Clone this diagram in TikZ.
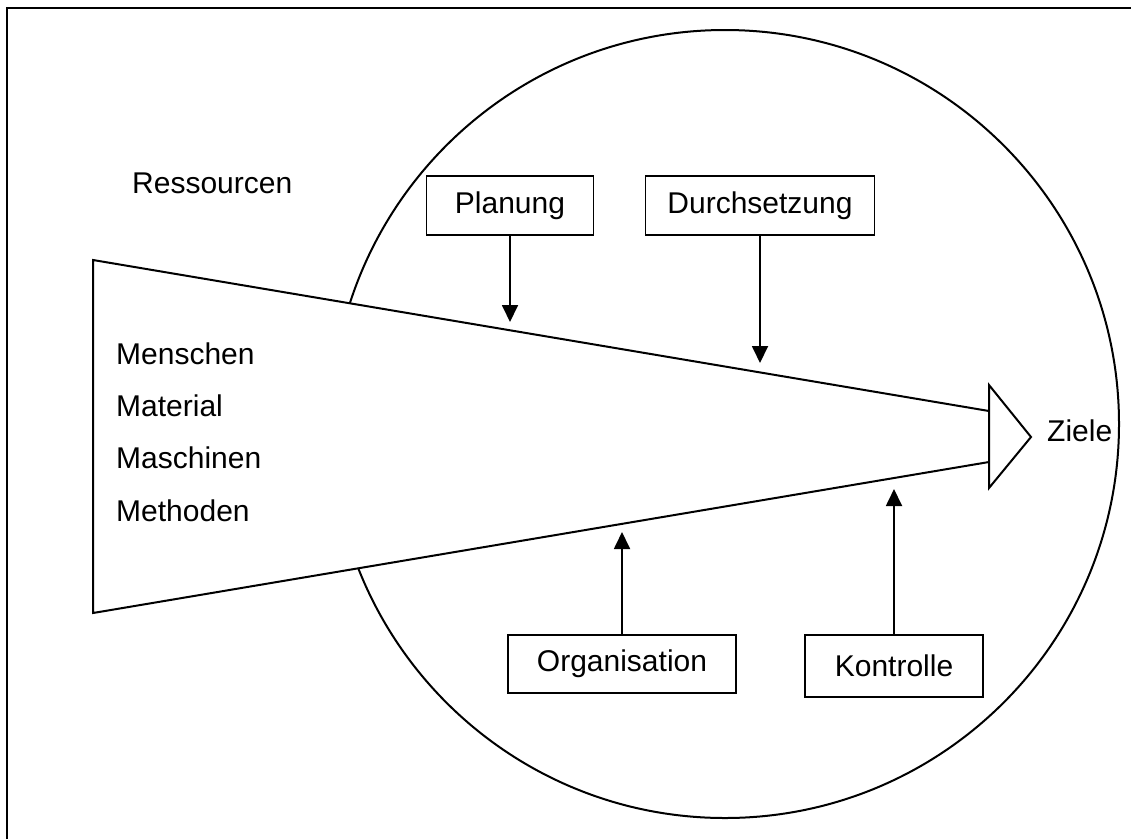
\documentclass[tikz,border=0pt]{standalone}
\usepackage{fontspec}
\setmainfont{Liberation Sans}
\usetikzlibrary{arrows.meta,positioning}
\tikzset{
  box/.style={draw, line width=1.8pt, inner sep=0pt, font=\fontsize{30}{36}\selectfont},
  lbl/.style={inner sep=0pt, anchor=base west, font=\fontsize{30}{36}\selectfont},
  ed/.style={-{Triangle[length=17pt,width=16pt]}, line width=1.8pt},
  ln/.style={line width=2pt}
}

\begin{document}
\begin{tikzpicture}[x=1pt,y=-1pt]
\useasboundingbox (0,0) rectangle (1131,839);
% frame
\draw[line width=2pt] (7,839) -- (7,8) -- (1131,8);
% circle
\draw[ln] (725,424) circle[radius=394];
% funnel
\fill[white] (989,411) -- (93,260) -- (93,613) -- (989,462) -- cycle;
\draw[ln] (989,411) -- (93,260) -- (93,613) -- (989,462);
\draw[ln, fill=white] (989,385) -- (1031,437) -- (989,488) -- cycle;
% texts
\node[lbl] (res) at (132,193) {Ressourcen};
\node[lbl] (m1) at (116,364) {Menschen};
\node[lbl] (m2) at (116,416) {Material};
\node[lbl] (m3) at (116,468) {Maschinen};
\node[lbl] (m4) at (116,521) {Methoden};
\node[lbl] (ziele) at (1047,441) {Ziele};
% boxes
\node[box, minimum width=167pt, minimum height=59pt] (plan) at (510,205.5) {Planung};
\node[box, minimum width=229pt, minimum height=59pt] (durch) at (760,205.5) {Durchsetzung};
\node[box, minimum width=228pt, minimum height=58pt] (org) at (622,664) {Organisation};
\node[box, minimum width=178pt, minimum height=62pt] (kon) at (894,666) {Kontrolle};
% arrow ends
\coordinate (pe) at (510,322);
\coordinate (de) at (760,363);
\coordinate (oe) at (622,532);
\coordinate (ke) at (894,489);
\draw[ed] (plan) -- (pe);
\draw[ed] (durch) -- (de);
\draw[ed] (org) -- (oe);
\draw[ed] (kon) -- (ke);
\end{tikzpicture}
\end{document}
